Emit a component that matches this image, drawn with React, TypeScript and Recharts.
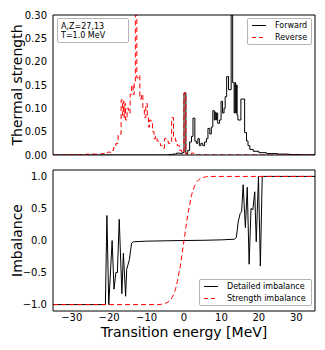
import React from "react";
import { LineChart, Line, XAxis, YAxis, Label } from "recharts";

// ── Top panel: thermal strength (step histograms, left bin edges) ───────────
const FWD_E = [-35, -4, -3, -2, -1, -0.5, 0, 0.5, 1, 1.5, 2, 2.4, 2.9, 3.3, 3.7, 4.1, 4.5, 5, 5.5, 6, 6.4, 6.9, 7.3, 7.7, 8.1, 8.3, 8.5, 8.7, 9, 9.5, 9.9, 10.3, 10.7, 11, 11.4, 11.9, 12.6, 13, 13.4, 13.6, 13.8, 14, 14.2, 14.4, 15.2, 16.2, 16.7, 17.1, 17.6, 18.5, 20, 22, 25, 28, 31, 35];
const FWD_S = [0, 0.001, 0.002, 0.004, 0.003, 0.005, 0.133, 0.003, 0.01, 0.028, 0.04, 0.079, 0.03, 0.025, 0.035, 0.02, 0.025, 0.02, 0.028, 0.035, 0.057, 0.045, 0.06, 0.095, 0.075, 0.092, 0.075, 0.09, 0.068, 0.075, 0.115, 0.09, 0.1, 0.125, 0.168, 0.14, 0.3, 0.155, 0.09, 0.155, 0.09, 0.15, 0.085, 0.075, 0.12, 0.048, 0.03, 0.02, 0.012, 0.008, 0.005, 0.003, 0.002, 0.001, 0.0005, 0];

const REV_E = [-35, -32, -26, -22, -20.5, -19.5, -18.8, -18.2, -17.6, -16.8, -16.4, -16.2, -16, -15.8, -15.6, -15.2, -14.8, -14.4, -14, -13.6, -13.3, -13, -12.6, -12.2, -11.8, -11.4, -11, -10.6, -10.2, -9.8, -9.5, -9.2, -8.8, -8.4, -8, -7.6, -7.2, -6.8, -6.3, -5.8, -5.2, -4.7, -4.2, -3.3, -2.8, -2.3, -1.8, -1.2, -0.6, 0, 0.5, 1, 2, 2.6, 3.2, 35];
const REV_S = [0, 0.001, 0.002, 0.003, 0.006, 0.01, 0.016, 0.025, 0.045, 0.118, 0.085, 0.115, 0.08, 0.11, 0.075, 0.1, 0.09, 0.13, 0.15, 0.13, 0.155, 0.3, 0.165, 0.17, 0.12, 0.13, 0.1, 0.08, 0.11, 0.085, 0.06, 0.075, 0.07, 0.05, 0.035, 0.04, 0.03, 0.025, 0.02, 0.015, 0.035, 0.03, 0.025, 0.08, 0.04, 0.03, 0.02, 0.01, 0.005, 0.133, 0.002, 0.001, 0.004, 0.002, 0, 0];

// ── Bottom panel: imbalance ──────────────────────────────────────────────────
const DET_E = [-35, -21, -20.6, -20.1, -19.2, -18.7, -18.2, -17.8, -17.3, -16.6, -16.2, -15.6, -15.3, -14.6, -14, -13.5, -10, -5, 0, 5, 10, 13.5, 14, 14.5, 15, 15.4, 15.8, 16.4, 16.9, 17.4, 17.9, 18.4, 18.9, 19.3, 19.9, 20.4, 20.9, 35];
const DET_I = [-1, -1, 0.39, -1, 0, -0.76, -0.5, -0.5, 0.33, -0.83, -0.2, -0.87, -0.45, -0.3, -0.04, -0.02, -0.01, -0.005, 0, 0.003, 0.01, 0.02, 0.05, 0.3, 0.42, 0.45, 0.87, 0.2, 0.83, -0.37, 0.5, 0.48, 0.76, -0.02, 1, -0.4, 1, 1];

const STR_E = [-35, -7, -6, -5, -4, -3.5, -3, -2.5, -2, -1.5, -1, -0.5, 0, 0.5, 1, 1.5, 2, 2.5, 3, 3.5, 4, 5, 6, 7, 35];
const STR_I = [-1, -1, -0.995, -0.98, -0.95, -0.92, -0.87, -0.8, -0.7, -0.55, -0.4, -0.2, 0, 0.2, 0.4, 0.55, 0.7, 0.8, 0.87, 0.92, 0.95, 0.98, 0.995, 1, 1];

const X_TICKS = [-30, -20, -10, 0, 10, 20, 30];
const S_TICKS = [0, 0.05, 0.1, 0.15, 0.2, 0.25, 0.3];
const I_TICKS = [-1, -0.5, 0, 0.5, 1];

const X_DOMAIN: [number, number] = [-35, 35];
const S_DOMAIN: [number, number] = [0, 0.3];
const I_DOMAIN: [number, number] = [-1.1, 1.1];

const FONT = "DejaVu Sans";
const FRAME = "#000";
const TICK_TEXT = { fontSize: 10, fill: "#000" } as const;
const TITLE_STYLE = { fontSize: 14, fill: "#000", textAnchor: "middle" } as const;
const DASH = "5 3";

const zip = (xs: number[], ys: number[]) => xs.map((e, i) => ({ e, v: ys[i] }));
const fwdData = zip(FWD_E, FWD_S);
const revData = zip(REV_E, REV_S);
const detData = zip(DET_E, DET_I);
const strData = zip(STR_E, STR_I);

const minus = (s: string) => s.replace("-", "\u2212");
const fmtX = (v: number) => minus(String(v));
const fmtS = (v: number) => v.toFixed(2);
const fmtI = (v: number) => minus(v.toFixed(1));

interface LegendItem {
  label: string;
  color: string;
  dash?: string;
}

function LegendBox({ left, top, width, items }: { left: number; top: number; width: number; items: LegendItem[] }) {
  return (
    <div
      style={{
        position: "absolute",
        left,
        top,
        width,
        boxSizing: "border-box",
        border: "1px solid #b4b4b4",
        borderRadius: 2,
        background: "#fff",
        paddingLeft: 4,
        fontSize: 8,
        color: "#000",
      }}
    >
      {items.map((it) => (
        <div key={it.label} style={{ display: "flex", alignItems: "center", height: 12.5 }}>
          <svg width={14} height={3} style={{ marginRight: 9, display: "block" }}>
            <line x1={0} x2={14} y1={1.5} y2={1.5} stroke={it.color} strokeWidth={1} strokeDasharray={it.dash} />
          </svg>
          <span style={{ whiteSpace: "nowrap" }}>{it.label}</span>
        </div>
      ))}
    </div>
  );
}

// inward tick marks + frame on all four sides, matplotlib-classic style
function frameAxes(xTicks: number[], xDomain: [number, number], yTicks: number[], yDomain: [number, number]) {
  return [
    <XAxis key="bi" xAxisId="bi" type="number" dataKey="e" domain={xDomain} ticks={xTicks} allowDataOverflow
      orientation="bottom" mirror height={10} tick={false} tickSize={4} tickLine={{ stroke: FRAME }} axisLine={false} />,
    <XAxis key="ti" xAxisId="ti" type="number" dataKey="e" domain={xDomain} ticks={xTicks} allowDataOverflow
      orientation="top" mirror height={10} tick={false} tickSize={4} tickLine={{ stroke: FRAME }} axisLine={{ stroke: FRAME }} />,
    <YAxis key="li" yAxisId="li" type="number" domain={yDomain} ticks={yTicks} allowDataOverflow
      orientation="left" mirror width={10} tick={false} tickSize={4} tickLine={{ stroke: FRAME }} axisLine={false} />,
    <YAxis key="ri" yAxisId="ri" type="number" domain={yDomain} ticks={yTicks} allowDataOverflow
      orientation="right" mirror width={10} tick={false} tickSize={4} tickLine={{ stroke: FRAME }} axisLine={{ stroke: FRAME }} />,
  ];
}

function StrengthPanel() {
  return (
    <LineChart width={325} height={165} margin={{ top: 15, right: 10, bottom: 0, left: 13 }}>
      <XAxis xAxisId="b" type="number" dataKey="e" domain={X_DOMAIN} ticks={X_TICKS} allowDataOverflow
        height={10} tick={false} tickLine={false} axisLine={{ stroke: FRAME }} />
      <YAxis yAxisId="l" type="number" domain={S_DOMAIN} ticks={S_TICKS} allowDataOverflow
        width={40} tick={TICK_TEXT} tickFormatter={fmtS} tickSize={4} tickMargin={2} tickLine={false} axisLine={{ stroke: FRAME }}>
        <Label value="Thermal strength" angle={-90} position="insideLeft" offset={4} style={TITLE_STYLE} />
      </YAxis>
      {frameAxes(X_TICKS, X_DOMAIN, S_TICKS, S_DOMAIN)}
      <Line data={fwdData} dataKey="v" xAxisId="b" yAxisId="l" type="stepAfter" stroke="#000" strokeWidth={1}
        dot={false} activeDot={false} isAnimationActive={false} />
      <Line data={revData} dataKey="v" xAxisId="b" yAxisId="l" type="stepAfter" stroke="#ff0000" strokeWidth={1}
        strokeDasharray={DASH} dot={false} activeDot={false} isAnimationActive={false} />
    </LineChart>
  );
}

function ImbalancePanel() {
  return (
    <LineChart width={325} height={190} margin={{ top: 10, right: 10, bottom: 0, left: 13 }}>
      <XAxis xAxisId="b" type="number" dataKey="e" domain={X_DOMAIN} ticks={X_TICKS} allowDataOverflow
        height={39} tick={TICK_TEXT} tickFormatter={fmtX} tickSize={3} tickMargin={0} tickLine={false} axisLine={{ stroke: FRAME }}>
        <Label value="Transition energy [MeV]" position="insideBottom" offset={13} style={TITLE_STYLE} />
      </XAxis>
      <YAxis yAxisId="l" type="number" domain={I_DOMAIN} ticks={I_TICKS} allowDataOverflow
        width={40} tick={TICK_TEXT} tickFormatter={fmtI} tickSize={4} tickMargin={2} tickLine={false} axisLine={{ stroke: FRAME }}>
        <Label value="Imbalance" angle={-90} position="insideLeft" offset={4} style={TITLE_STYLE} />
      </YAxis>
      {frameAxes(X_TICKS, X_DOMAIN, I_TICKS, I_DOMAIN)}
      <Line data={detData} dataKey="v" xAxisId="b" yAxisId="l" type="linear" stroke="#000" strokeWidth={1}
        dot={false} activeDot={false} isAnimationActive={false} />
      <Line data={strData} dataKey="v" xAxisId="b" yAxisId="l" type="monotone" stroke="#ff0000" strokeWidth={1}
        strokeDasharray={DASH} dot={false} activeDot={false} isAnimationActive={false} />
    </LineChart>
  );
}

export default function App() {
  return (
    <div style={{ position: "absolute", left: 0, top: 0, width: 325, height: 350, background: "#fff", fontFamily: FONT }}>
      <div style={{ position: "absolute", left: 0, top: 0 }}>
        <StrengthPanel />
      </div>
      <div style={{ position: "absolute", left: 0, top: 160 }}>
        <ImbalancePanel />
      </div>
      <div
        style={{
          position: "absolute",
          left: 57,
          top: 18,
          width: 72,
          boxSizing: "border-box",
          border: "1px solid #b4b4b4",
          borderRadius: 2,
          background: "#fff",
          padding: "2.5px 0 2.5px 3px",
          fontSize: 8,
          lineHeight: "9px",
          color: "#000",
        }}
      >
        <div>A,Z=27,13</div>
        <div>T=1.0 MeV</div>
      </div>
      <LegendBox
        left={247}
        top={18}
        width={65}
        items={[
          { label: "Forward", color: "#000" },
          { label: "Reverse", color: "#ff0000", dash: "4 3" },
        ]}
      />
      <LegendBox
        left={199}
        top={279}
        width={113}
        items={[
          { label: "Detailed imbalance", color: "#000" },
          { label: "Strength imbalance", color: "#ff0000", dash: "4 3" },
        ]}
      />
    </div>
  );
}
